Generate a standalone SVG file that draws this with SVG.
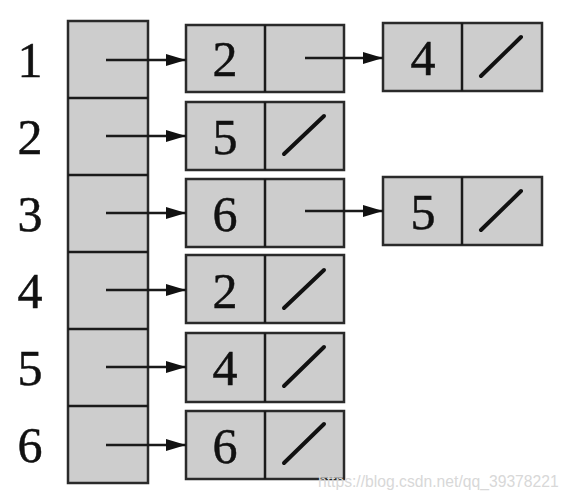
<svg xmlns="http://www.w3.org/2000/svg" width="568" height="500" viewBox="0 0 568 500">
<style>
.box{fill:#cdcdcd;stroke:#2a2a2a;stroke-width:2.5}
.ln{stroke:#1a1a1a;stroke-width:2.5;fill:none}
.sl{stroke:#111;stroke-width:4;stroke-linecap:round}
.num{font-family:"Liberation Serif",serif;font-size:50px;fill:#111;stroke:#111;stroke-width:0.5;text-anchor:middle}
.wm{font-family:"Liberation Sans",sans-serif;font-size:15.7px;fill:#d8d8d8}
</style>
<defs>
<marker id="ah" viewBox="0 0 20 12" refX="20" refY="6" markerWidth="20" markerHeight="12" markerUnits="userSpaceOnUse" orient="auto">
<path d="M0,0 L20,6 L0,12 Z" fill="#111"/>
</marker>
</defs>
<rect width="568" height="500" fill="#fff"/>
<g id="labels">
<text class="num" x="30" y="77">1</text>
<text class="num" x="30" y="154">2</text>
<text class="num" x="30" y="231">3</text>
<text class="num" x="30" y="308">4</text>
<text class="num" x="30" y="385">5</text>
<text class="num" x="30" y="462">6</text>
</g>
<g id="headers">
<rect class="box" x="68" y="21" width="80" height="462"/>
<line class="ln" x1="68" y1="98" x2="148" y2="98"/>
<line class="ln" x1="68" y1="175" x2="148" y2="175"/>
<line class="ln" x1="68" y1="252" x2="148" y2="252"/>
<line class="ln" x1="68" y1="329" x2="148" y2="329"/>
<line class="ln" x1="68" y1="406" x2="148" y2="406"/>
</g>
<g id="n1a"><rect class="box" x="186" y="25" width="158" height="67"/><line class="ln" x1="265" y1="25" x2="265" y2="92"/><text class="num" x="225" y="76">2</text></g>
<g id="n1b"><rect class="box" x="383" y="23" width="159" height="68"/><line class="ln" x1="462" y1="23" x2="462" y2="91"/><text class="num" x="423" y="75">4</text><line class="sl" x1="481" y1="76" x2="521" y2="37"/></g>
<g id="n2a"><rect class="box" x="186" y="102" width="158" height="68"/><line class="ln" x1="265" y1="102" x2="265" y2="170"/><text class="num" x="225" y="154">5</text><line class="sl" x1="284" y1="154" x2="324" y2="116"/></g>
<g id="n3a"><rect class="box" x="186" y="179" width="158" height="68"/><line class="ln" x1="265" y1="179" x2="265" y2="247"/><text class="num" x="225" y="231">6</text></g>
<g id="n3b"><rect class="box" x="383" y="177" width="159" height="68"/><line class="ln" x1="462" y1="177" x2="462" y2="245"/><text class="num" x="423" y="229">5</text><line class="sl" x1="481" y1="230" x2="521" y2="191"/></g>
<g id="n4a"><rect class="box" x="186" y="255" width="158" height="68"/><line class="ln" x1="265" y1="255" x2="265" y2="323"/><text class="num" x="225" y="308">2</text><line class="sl" x1="284" y1="308" x2="324" y2="270"/></g>
<g id="n5a"><rect class="box" x="186" y="333" width="158" height="69"/><line class="ln" x1="265" y1="333" x2="265" y2="402"/><text class="num" x="225" y="385">4</text><line class="sl" x1="284" y1="386" x2="324" y2="347"/></g>
<g id="n6a"><rect class="box" x="186" y="411" width="158" height="68"/><line class="ln" x1="265" y1="411" x2="265" y2="479"/><text class="num" x="225" y="463">6</text><line class="sl" x1="284" y1="463" x2="324" y2="424"/></g>
<g id="connectors">
<line class="ln" x1="106" y1="60" x2="186" y2="60" marker-end="url(#ah)"/>
<line class="ln" x1="106" y1="136" x2="186" y2="136" marker-end="url(#ah)"/>
<line class="ln" x1="106" y1="213" x2="186" y2="213" marker-end="url(#ah)"/>
<line class="ln" x1="106" y1="290" x2="186" y2="290" marker-end="url(#ah)"/>
<line class="ln" x1="106" y1="367" x2="186" y2="367" marker-end="url(#ah)"/>
<line class="ln" x1="106" y1="445" x2="186" y2="445" marker-end="url(#ah)"/>
<line class="ln" x1="305" y1="58" x2="383" y2="58" marker-end="url(#ah)"/>
<line class="ln" x1="305" y1="211" x2="383" y2="211" marker-end="url(#ah)"/>
</g>
<text class="wm" x="318" y="487">https://blog.csdn.net/qq_39378221</text>
</svg>
